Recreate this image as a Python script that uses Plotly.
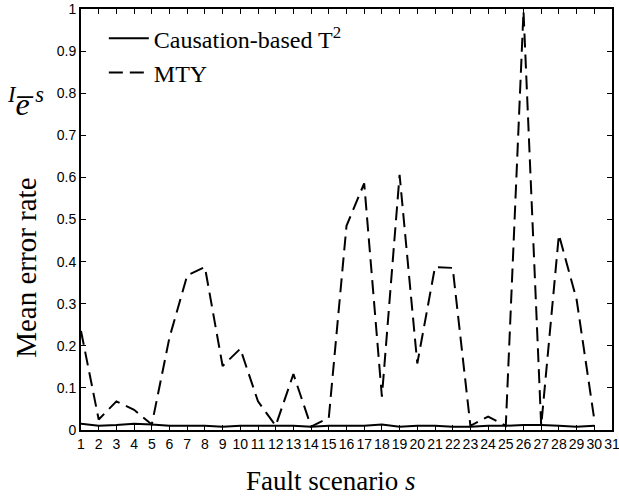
import plotly.graph_objects as go

scenarios = list(range(1, 31))
causation_t2 = [0.015, 0.010, 0.012, 0.015, 0.013, 0.010, 0.010, 0.010, 0.008, 0.010,
                0.010, 0.010, 0.010, 0.008, 0.010, 0.010, 0.010, 0.013, 0.008, 0.010,
                0.010, 0.008, 0.008, 0.010, 0.010, 0.012, 0.012, 0.010, 0.008, 0.010]
mty = [0.235, 0.025, 0.068, 0.048, 0.013, 0.220, 0.367, 0.387, 0.152, 0.193,
       0.068, 0.010, 0.133, 0.008, 0.029, 0.485, 0.586, 0.079, 0.606, 0.158,
       0.387, 0.385, 0.010, 0.032, 0.010, 0.995, 0.010, 0.464, 0.310, 0.025]
x_ticks = list(range(1, 32))
y_ticks = [0, 0.1, 0.2, 0.3, 0.4, 0.5, 0.6, 0.7, 0.8, 0.9, 1]
y_ticktext = ["0", "0.1", "0.2", "0.3", "0.4", "0.5", "0.6", "0.7", "0.8", "0.9", "1"]

serif = "Liberation Serif, Times New Roman, serif"
sans = "Liberation Sans, Arial, sans-serif"

fig = go.Figure()
fig.add_trace(go.Scatter(x=scenarios, y=causation_t2, mode="lines",
                         name="Causation-based T<sup>2</sup>",
                         line=dict(color="black", width=2)))
fig.add_trace(go.Scatter(x=scenarios, y=mty, mode="lines", name="MTY",
                         line=dict(color="black", width=2, dash="14px,7px")))

fig.update_layout(
    width=619, height=501,
    margin=dict(l=81, r=7, t=9, b=71),
    plot_bgcolor="white", paper_bgcolor="white",
    showlegend=True,
    legend=dict(x=0.043, y=0.983, xanchor="left", yanchor="top",
                bgcolor="rgba(0,0,0,0)", font=dict(family=serif, size=24, color="black"),
                itemwidth=40, tracegroupgap=0),
    xaxis=dict(range=[1, 31], tickmode="array", tickvals=x_ticks,
               ticktext=[str(v) for v in x_ticks], tickangle=0, automargin=False,
               ticklabeloverflow="allow",
               ticks="inside", ticklen=5, tickwidth=1, tickcolor="black",
               showline=True, linecolor="black", linewidth=2, mirror="ticks",
               showgrid=False, zeroline=False,
               tickfont=dict(family=sans, size=14, color="black")),
    yaxis=dict(range=[0, 1], tickmode="array", tickvals=y_ticks, ticktext=y_ticktext,
               automargin=False,
               ticks="inside", ticklen=5, tickwidth=1, tickcolor="black",
               showline=True, linecolor="black", linewidth=2, mirror="ticks",
               showgrid=False, zeroline=False,
               tickfont=dict(family=sans, size=14, color="black")),
)

# axis titles
fig.add_annotation(xref="paper", yref="paper", x=0.47, y=-0.12,
                   xanchor="center", yanchor="middle", showarrow=False,
                   text="Fault scenario <i>s</i>",
                   font=dict(family=serif, size=27, color="black"))
fig.add_annotation(xref="paper", yref="paper", x=-0.103, y=0.386,
                   xanchor="center", yanchor="middle", showarrow=False, textangle=-90,
                   text="Mean error rate",
                   font=dict(family=serif, size=29, color="black"))
fig.add_annotation(xref="paper", yref="paper", x=-0.105, y=0.78,
                   xanchor="center", yanchor="middle", showarrow=False,
                   text="<sup><i>I</i></sup><i>e\u0305</i><sup> <i>s</i></sup>",
                   font=dict(family=serif, size=32, color="black"))

fig.write_html("out.html", config={"displayModeBar": False},
               post_script="document.body.style.margin='0px';document.body.style.overflow='hidden';")
